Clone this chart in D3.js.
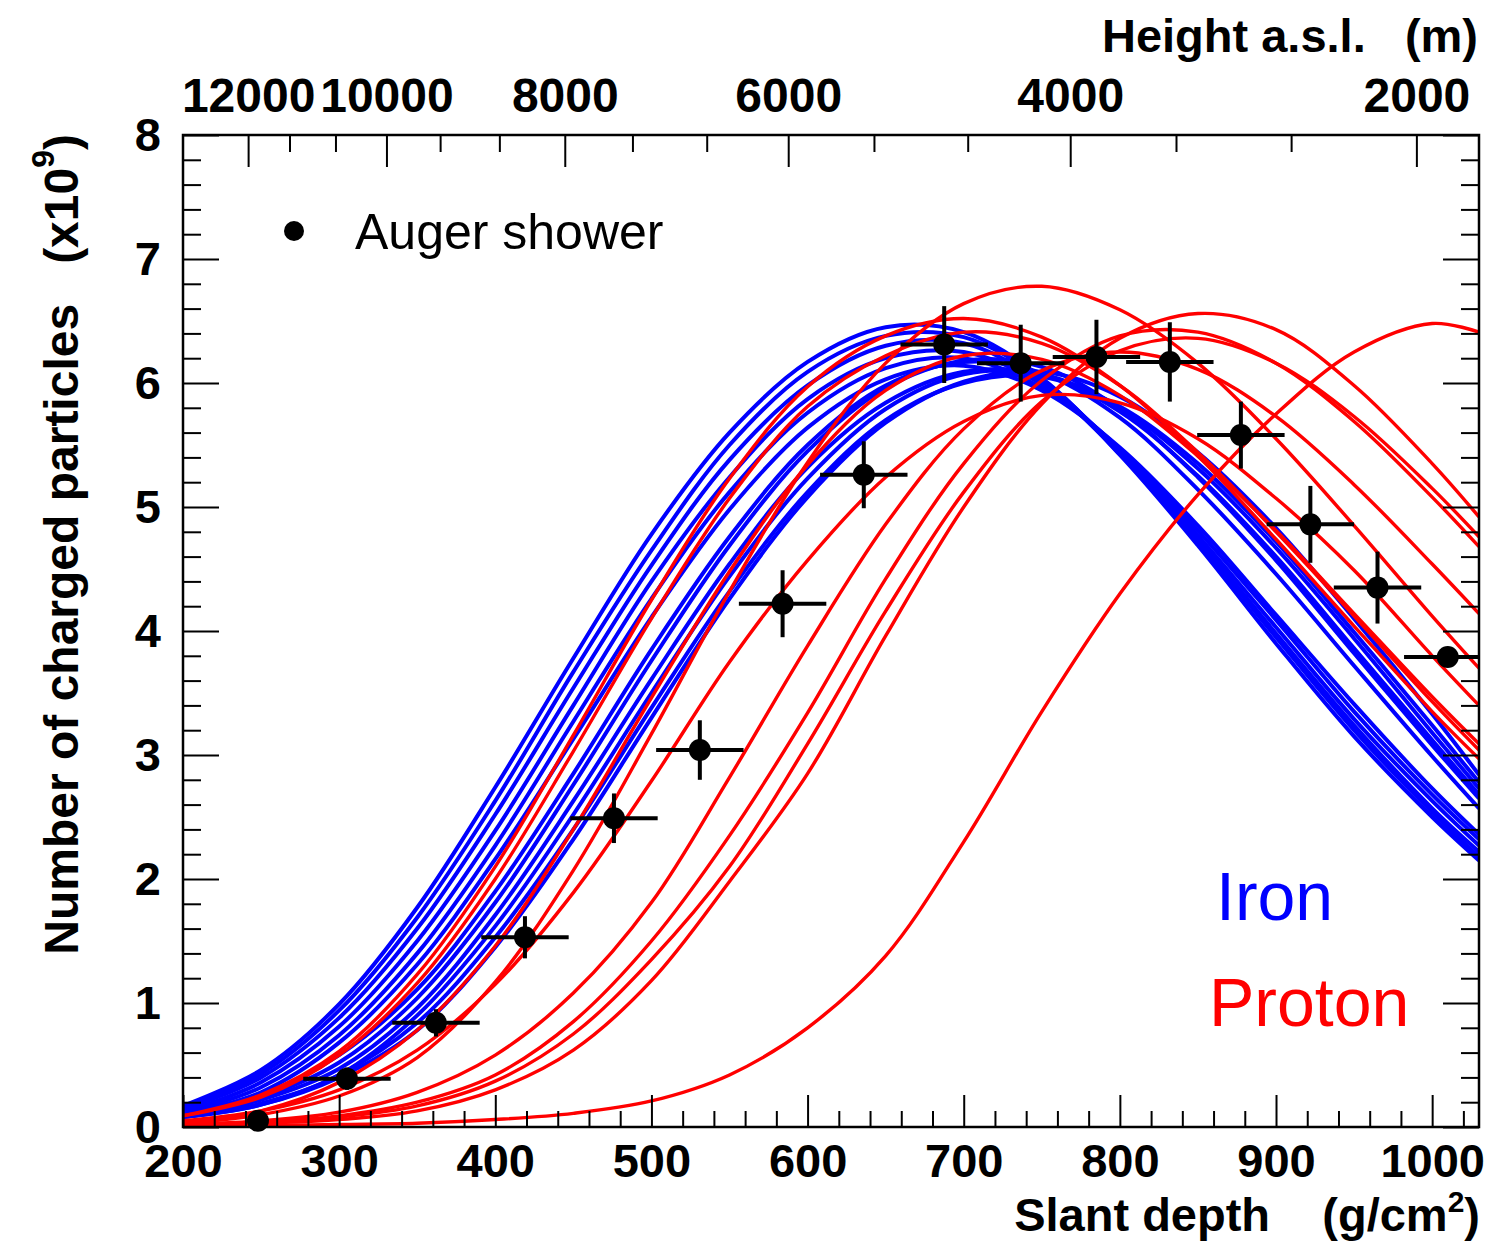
<!DOCTYPE html>
<html lang="en">
<head>
<meta charset="UTF-8">
<title>Auger shower profile</title>
<script src="https://d3js.org/d3.v7.min.js"></script>
<style>
  body { margin: 0; background: #fff; }
  svg text { font-family: "Liberation Sans", Arial, Helvetica, sans-serif; }
</style>
</head>
<body>
<div id="chart"></div>
<script>
// slant depth grid (g/cm2) on which every simulated profile was read
const depthGrid = [200, 250, 300, 350, 400, 450, 500, 550, 600, 650, 700, 750, 800, 850, 900, 950, 1000, 1030];

// iron showers, number of charged particles (x1e9)
const ironCurves = [
  [0.17, 0.46, 0.99, 1.77, 2.74, 3.78, 4.78, 5.60, 6.17, 6.45, 6.41, 6.04, 5.42, 4.69, 3.90, 3.15, 2.50, 2.15],
  [0.15, 0.43, 0.94, 1.69, 2.63, 3.67, 4.65, 5.50, 6.09, 6.38, 6.37, 6.03, 5.43, 4.72, 3.95, 3.20, 2.54, 2.18],
  [0.14, 0.40, 0.88, 1.60, 2.52, 3.54, 4.53, 5.38, 5.98, 6.30, 6.32, 6.00, 5.43, 4.74, 3.98, 3.24, 2.57, 2.22],
  [0.12, 0.36, 0.81, 1.50, 2.39, 3.40, 4.40, 5.24, 5.87, 6.20, 6.25, 5.99, 5.46, 4.77, 4.03, 3.29, 2.63, 2.27],
  [0.11, 0.32, 0.74, 1.40, 2.27, 3.27, 4.26, 5.12, 5.76, 6.12, 6.20, 5.96, 5.47, 4.81, 4.09, 3.35, 2.68, 2.32],
  [0.10, 0.28, 0.68, 1.31, 2.16, 3.13, 4.11, 4.98, 5.64, 6.03, 6.14, 5.94, 5.48, 4.85, 4.13, 3.41, 2.73, 2.36],
  [0.10, 0.26, 0.58, 1.11, 1.90, 2.85, 3.85, 4.76, 5.50, 5.98, 6.17, 6.08, 5.72, 5.14, 4.46, 3.72, 2.99, 2.57],
  [0.10, 0.24, 0.52, 1.04, 1.81, 2.76, 3.76, 4.69, 5.45, 5.96, 6.18, 6.13, 5.79, 5.24, 4.57, 3.82, 3.08, 2.65],
  [0.09, 0.22, 0.47, 0.96, 1.71, 2.63, 3.61, 4.54, 5.32, 5.84, 6.09, 6.07, 5.77, 5.25, 4.60, 3.86, 3.12, 2.68],
  [0.08, 0.19, 0.42, 0.90, 1.62, 2.52, 3.50, 4.44, 5.23, 5.79, 6.07, 6.07, 5.80, 5.31, 4.67, 3.94, 3.18, 2.73],
  [0.08, 0.18, 0.42, 0.84, 1.53, 2.40, 3.38, 4.32, 5.12, 5.70, 6.00, 6.05, 5.81, 5.35, 4.72, 3.99, 3.24, 2.78],
  [0.08, 0.18, 0.40, 0.78, 1.45, 2.32, 3.30, 4.26, 5.08, 5.68, 6.01, 6.09, 5.89, 5.44, 4.83, 4.10, 3.33, 2.84]
];

// proton showers
const protonCurves = [
  [0.09, 0.26, 0.61, 1.23, 2.10, 3.16, 4.25, 5.23, 5.97, 6.38, 6.52, 6.37, 5.98, 5.41, 4.74, 4.04, 3.35, 2.97],
  [0.09, 0.24, 0.58, 1.16, 2.00, 3.03, 4.10, 5.07, 5.81, 6.22, 6.41, 6.32, 5.98, 5.44, 4.80, 4.12, 3.43, 3.04],
  [0.04, 0.13, 0.36, 0.78, 1.46, 2.40, 3.46, 4.48, 5.34, 5.94, 6.22, 6.19, 5.90, 5.41, 4.81, 4.14, 3.47, 3.09],
  [0.03, 0.10, 0.25, 0.56, 1.17, 2.07, 3.17, 4.32, 5.36, 6.16, 6.64, 6.78, 6.59, 6.16, 5.55, 4.85, 4.12, 3.70],
  [0.05, 0.13, 0.30, 0.62, 1.15, 1.89, 2.79, 3.75, 4.57, 5.24, 5.69, 5.90, 5.84, 5.55, 5.07, 4.49, 3.80, 3.40],
  [0.02, 0.05, 0.12, 0.28, 0.58, 1.08, 1.81, 2.82, 3.88, 4.86, 5.63, 6.10, 6.25, 6.11, 5.73, 5.18, 4.54, 4.14],
  [0.02, 0.04, 0.09, 0.20, 0.42, 0.85, 1.50, 2.35, 3.34, 4.42, 5.35, 6.02, 6.38, 6.41, 6.16, 5.69, 5.08, 4.68],
  [0.02, 0.04, 0.08, 0.17, 0.37, 0.75, 1.35, 2.10, 3.09, 4.16, 5.12, 5.85, 6.26, 6.36, 6.16, 5.73, 5.15, 4.76],
  [0.02, 0.03, 0.06, 0.13, 0.30, 0.62, 1.18, 1.98, 2.85, 3.96, 5.00, 5.83, 6.36, 6.56, 6.43, 5.98, 5.35, 4.92],
  [0.00, 0.01, 0.02, 0.03, 0.06, 0.11, 0.21, 0.42, 0.80, 1.38, 2.30, 3.35, 4.30, 5.10, 5.75, 6.25, 6.48, 6.41]
];

// measured Auger shower
const augerDepth = [248, 305, 362, 419, 476, 531, 584, 636, 687.5, 736.5, 785, 832, 877.5, 922, 965, 1010];
const augerCount = [0.05, 0.39, 0.84, 1.53, 2.49, 3.04, 4.22, 5.26, 6.31, 6.16, 6.21, 6.17, 5.58, 4.86, 4.35, 3.79];
const augerCountErr = [0.02, 0.09, 0.11, 0.17, 0.20, 0.24, 0.27, 0.27, 0.31, 0.31, 0.30, 0.32, 0.27, 0.31, 0.29, 0.05];
const augerDepthErr = [0, 28, 28, 28, 28, 28, 28, 28, 28, 28, 28, 28, 28, 28, 28, 28];

// top axis: height above sea level and the slant depth it sits at
const heightTicks = [12000, 10000, 8000, 6000, 4000, 2000];
const heightDepths = [241.7, 330.3, 444.5, 587.6, 768.2, 989.9];

const depthTicks = [200, 300, 400, 500, 600, 700, 800, 900, 1000];
const countTicks = [0, 1, 2, 3, 4, 5, 6, 7, 8];

const W = 1486, H = 1244;
const svg = d3.select('#chart').append('svg')
    .attr('width', W)
    .attr('height', H);

const x = d3.scaleLinear().domain([200, 1030]).range([183, 1479]);
const y = d3.scaleLinear().domain([0, 8]).range([1127, 135]);

// height -> depth, interpolated in log(depth) between the labelled heights
const logDepth = d3.scaleLinear().domain(heightTicks).range(heightDepths.map(Math.log));
const depthOfHeight = h => Math.exp(logDepth(h));

svg.append('clipPath').attr('id', 'plot')
  .append('rect')
    .attr('x', x(200)).attr('y', y(8))
    .attr('width', x(1030) - x(200)).attr('height', y(0) - y(8));

// curves
const line = d3.line()
    .x((d, i) => x(depthGrid[i]))
    .y(d => y(d))
    .curve(d3.curveCatmullRom.alpha(0.5));

const curves = svg.append('g').attr('clip-path', 'url(#plot)').attr('fill', 'none');
curves.selectAll('.iron')
  .data(ironCurves)
  .enter().append('path')
    .attr('class', 'iron')
    .attr('d', line)
    .attr('stroke', '#0000ff')
    .attr('stroke-width', 4);
curves.selectAll('.proton')
  .data(protonCurves)
  .enter().append('path')
    .attr('class', 'proton')
    .attr('d', line)
    .attr('stroke', '#ff0000')
    .attr('stroke-width', 3.4);

// data points
const pts = augerDepth.map((d, i) => ({
  x: d, y: augerCount[i], ex: augerDepthErr[i], ey: augerCountErr[i]
}));
const bars = svg.append('g').attr('clip-path', 'url(#plot)')
    .attr('stroke', '#000').attr('stroke-width', 4);
bars.selectAll('.ex')
  .data(pts.filter(d => d.ex > 0))
  .enter().append('line')
    .attr('x1', d => x(d.x - d.ex)).attr('x2', d => x(d.x + d.ex))
    .attr('y1', d => y(d.y)).attr('y2', d => y(d.y));
bars.selectAll('.ey')
  .data(pts)
  .enter().append('line')
    .attr('x1', d => x(d.x)).attr('x2', d => x(d.x))
    .attr('y1', d => y(d.y - d.ey)).attr('y2', d => y(d.y + d.ey));
svg.append('g').selectAll('circle')
  .data(pts)
  .enter().append('circle')
    .attr('cx', d => x(d.x))
    .attr('cy', d => y(d.y))
    .attr('r', 11)
    .attr('fill', '#000');

// frame
svg.append('rect')
    .attr('x', x(200)).attr('y', y(8))
    .attr('width', x(1030) - x(200)).attr('height', y(0) - y(8))
    .attr('fill', 'none')
    .attr('stroke', '#000')
    .attr('stroke-width', 2.5);

function styleAxis(g, size) {
  g.select('.domain').remove();
  g.selectAll('.tick line').attr('stroke-width', 2);
  g.selectAll('text')
    .attr('font-family', '"Liberation Sans", Arial, Helvetica, sans-serif')
    .attr('font-size', size || 47)
    .attr('font-weight', 'bold')
    .attr('fill', '#000');
}

// bottom axis
const xMinor = d3.range(220, 1030, 20).filter(v => v % 100 !== 0);
svg.append('g').attr('transform', `translate(0,${y(0)})`)
  .call(d3.axisBottom(x).tickValues(depthTicks).tickSizeInner(-32).tickSizeOuter(0)
    .tickPadding(17).tickFormat(d3.format('d')))
  .call(styleAxis);
svg.append('g').attr('transform', `translate(0,${y(0)})`)
  .call(d3.axisBottom(x).tickValues(xMinor).tickSize(-16).tickFormat(''))
  .call(styleAxis);

// left and right axes
const yMinor = d3.range(1, 40).map(v => v / 5).filter(v => v % 1 !== 0);
svg.append('g').attr('transform', `translate(${x(200)},0)`)
  .call(d3.axisLeft(y).tickValues(countTicks).tickSizeInner(-36).tickSizeOuter(0)
    .tickPadding(22).tickFormat(d3.format('d')))
  .call(styleAxis);
svg.append('g').attr('transform', `translate(${x(200)},0)`)
  .call(d3.axisLeft(y).tickValues(yMinor).tickSize(-18).tickFormat(''))
  .call(styleAxis);
svg.append('g').attr('transform', `translate(${x(1030)},0)`)
  .call(d3.axisRight(y).tickValues(countTicks).tickSizeInner(-36).tickSizeOuter(0).tickFormat(''))
  .call(styleAxis);
svg.append('g').attr('transform', `translate(${x(1030)},0)`)
  .call(d3.axisRight(y).tickValues(yMinor).tickSize(-18).tickFormat(''))
  .call(styleAxis);

// top axis: height a.s.l.
const hMinor = [];
for (let i = 0; i < heightTicks.length - 1; i++) {
  const step = (heightTicks[i] - heightTicks[i + 1]) / 3;
  hMinor.push(heightTicks[i] - step, heightTicks[i] - 2 * step);
}
svg.append('g').attr('transform', `translate(0,${y(8)})`)
  .call(d3.axisTop(x).tickValues(heightTicks.map(depthOfHeight)).tickSizeInner(-32).tickSizeOuter(0)
    .tickPadding(23).tickFormat((d, i) => heightTicks[i]))
  .call(g => styleAxis(g, 48));
svg.append('g').attr('transform', `translate(0,${y(8)})`)
  .call(d3.axisTop(x).tickValues(hMinor.map(depthOfHeight)).tickSize(-17).tickFormat(''))
  .call(styleAxis);

// axis titles
svg.append('text')
    .attr('x', 1478).attr('y', 52)
    .attr('text-anchor', 'end')
    .attr('font-size', 47).attr('font-weight', 'bold')
    .style('white-space', 'pre')
    .text('Height a.s.l.   (m)');

const xt = svg.append('text')
    .attr('x', 1480).attr('y', 1231)
    .attr('text-anchor', 'end')
    .attr('font-size', 47).attr('font-weight', 'bold')
    .style('white-space', 'pre');
xt.append('tspan').text('Slant depth    (g/cm');
xt.append('tspan').attr('dy', -19).attr('font-size', 30).text('2');
xt.append('tspan').attr('dy', 19).text(')');

const yt = svg.append('text')
    .attr('transform', 'translate(78,134) rotate(-90)')
    .attr('text-anchor', 'end')
    .attr('font-size', 48).attr('font-weight', 'bold')
    .style('white-space', 'pre');
yt.append('tspan').text('Number of charged particles   (x10');
yt.append('tspan').attr('dy', -24).attr('font-size', 32).text('9');
yt.append('tspan').attr('dy', 24).text(')');

// legend
svg.append('circle').attr('cx', 294).attr('cy', 231).attr('r', 10).attr('fill', '#000');
svg.append('text')
    .attr('x', 355).attr('y', 249)
    .attr('font-size', 50)
    .text('Auger shower');

svg.append('text')
    .attr('x', 1216).attr('y', 920)
    .attr('font-size', 68)
    .attr('fill', '#0000ff')
    .text('Iron');
svg.append('text')
    .attr('x', 1209).attr('y', 1026)
    .attr('font-size', 68)
    .attr('fill', '#ff0000')
    .text('Proton');
</script>
</body>
</html>
